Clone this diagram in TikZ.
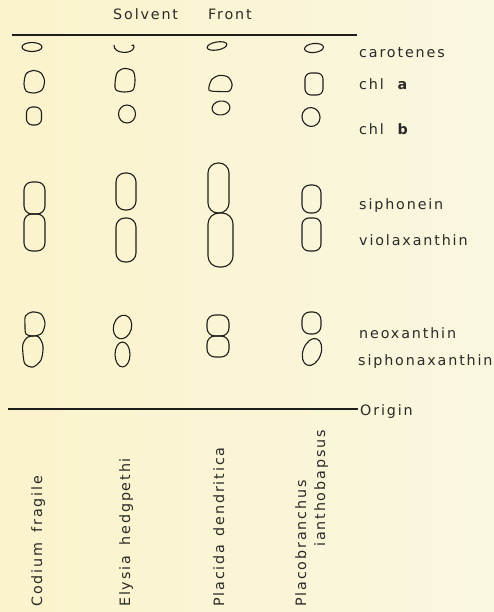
\documentclass[tikz,border=0pt]{standalone}
\usepackage{fontspec}
\setmainfont{DejaVu Sans}[LetterSpace=13]
\definecolor{bgL}{RGB}{250,243,204}
\definecolor{bgR}{RGB}{250,247,224}
\definecolor{ink}{RGB}{30,30,26}
\definecolor{txt}{RGB}{42,42,38}
\begin{document}
\begin{tikzpicture}[x=1pt,y=-1pt,
  spot/.style={draw=ink,line width=1.1pt},
  frontline/.style={draw=ink,line width=1.1pt},
  lbl/.style={text=txt,font=\fontsize{14.3}{16}\selectfont,inner sep=0pt,anchor=base west},
  vlbl/.style={lbl,rotate=90}]
\shade[left color=bgL,right color=bgR] (0,0) rectangle (494,612);
\useasboundingbox (0,0) rectangle (494,612);
% title
\node[lbl] (title) at (113,20) {Solvent\hspace{30pt}Front};
% lines
\coordinate (fl) at (12,35); \coordinate (fr) at (357,35);
\draw[frontline] (fl) -- (fr);
% row labels
\node[lbl] (car) at (359,58) {carotenes};
\node[lbl] (chla) at (359,90) {chl\hspace{12pt}\textbf{a}};
\node[lbl] (chlb) at (359,135) {chl\hspace{12pt}\textbf{b}};
\node[lbl] (sip) at (359,210) {siphonein};
\node[lbl] (vio) at (359,245) {violaxanthin};
\node[lbl] (neo) at (359,338) {neoxanthin};
\node[lbl] (sipx) at (358,365) {siphonaxanthin};
\node[lbl] (orig) at (360,415) {Origin};
\coordinate (ol) at (8,409);
\draw[frontline] (ol) -- ([xshift=-2pt]orig.west |- ol);
% column labels
\node[vlbl] (c1) at (42,607) {Codium\hspace{4pt} fragile};
\node[vlbl] (c2) at (130,607) {Elysia\hspace{4pt} hedgpethi};
\node[vlbl] (c3) at (224,607) {Placida\hspace{2pt} dendritica};
\node[vlbl] (c4a) at (306,607) {Placobranchus};
\node[vlbl] (c4b) at (325,547) {ianthobapsus};
% row 1 carotenes
\draw[spot] (32,47) ellipse [x radius=10pt,y radius=4.5pt];
\draw[spot] (114,45) .. controls (113,54) and (133,55) .. (134,47) .. controls (134.5,45) and (133,44.5) .. (131.5,45.5);
\draw[spot,rotate around={10:(217,46)}] (217,46) ellipse [x radius=10pt,y radius=4pt];
\draw[spot,rotate around={6:(314,48)}] (314,48) ellipse [x radius=9.5pt,y radius=4.5pt];
% row 2 chl a
\draw[spot] plot[smooth cycle] coordinates {(24,84) (26,74) (33,70.5) (41,73) (44.5,81) (42,90) (34,93) (26,91)};
\draw[spot] plot[smooth cycle] coordinates {(115,84) (117,73) (124,68.5) (133,71) (135,80) (133,90) (124,92) (116,90)};
\draw[spot] plot[smooth cycle] coordinates {(209,90) (211.5,80) (219,75.5) (228,77) (232,84) (229.5,91) (219,91.5)};
\draw[spot,rounded corners=6pt] (305,73) rectangle (323,95);
% row 3 chl b
\draw[spot,rounded corners=6pt] (26.5,107) rectangle (41.5,125);
\draw[spot] (127,114) ellipse [x radius=8.5pt,y radius=9pt];
\draw[spot,rotate around={8:(221,108)}] (221,108) ellipse [x radius=9pt,y radius=7pt];
\draw[spot,rotate around={20:(311,117)}] (311,117) ellipse [x radius=9pt,y radius=9.5pt];
% row 4 siphonein / violaxanthin
\draw[spot,rounded corners=8pt] (24,182) rectangle (45,214);
\draw[spot,rounded corners=8pt] (24,214) rectangle (45,251);
\draw[spot,rounded corners=9pt] (116,173) rectangle (136,210);
\draw[spot,rounded corners=9pt] (116,218) rectangle (136,262);
\draw[spot,rounded corners=10pt] (208,163) rectangle (229,213);
\draw[spot,rounded corners=11pt] (208,213) rectangle (233,267);
\draw[spot,rounded corners=8pt] (302,185) rectangle (321,213);
\draw[spot,rounded corners=7pt] (302,218) rectangle (321,251);
% row 5 neoxanthin / siphonaxanthin
\draw[spot] plot[smooth cycle] coordinates {(25.5,316) (32,312) (41,314) (45,323) (42,333) (34,336) (26,334) (25,325)};
\draw[spot] plot[smooth cycle] coordinates {(28,337) (38,336.5) (43,346) (41,360) (33,367) (25,364) (23,354) (23,344)};
\draw[spot,rotate around={-15:(122.5,327)}] (122.5,327) ellipse [x radius=9pt,y radius=12pt];
\draw[spot] (122.5,354.5) ellipse [x radius=7.5pt,y radius=12.5pt];
\draw[spot,rounded corners=8pt] (207,315) rectangle (229,336);
\draw[spot,rounded corners=8pt] (207,336) rectangle (229,357);
\draw[spot,rounded corners=8pt] (302,312) rectangle (321,334);
\draw[spot,rotate around={-20:(312,352)}] (312,352) ellipse [x radius=9pt,y radius=14pt];
\end{tikzpicture}
\end{document}
